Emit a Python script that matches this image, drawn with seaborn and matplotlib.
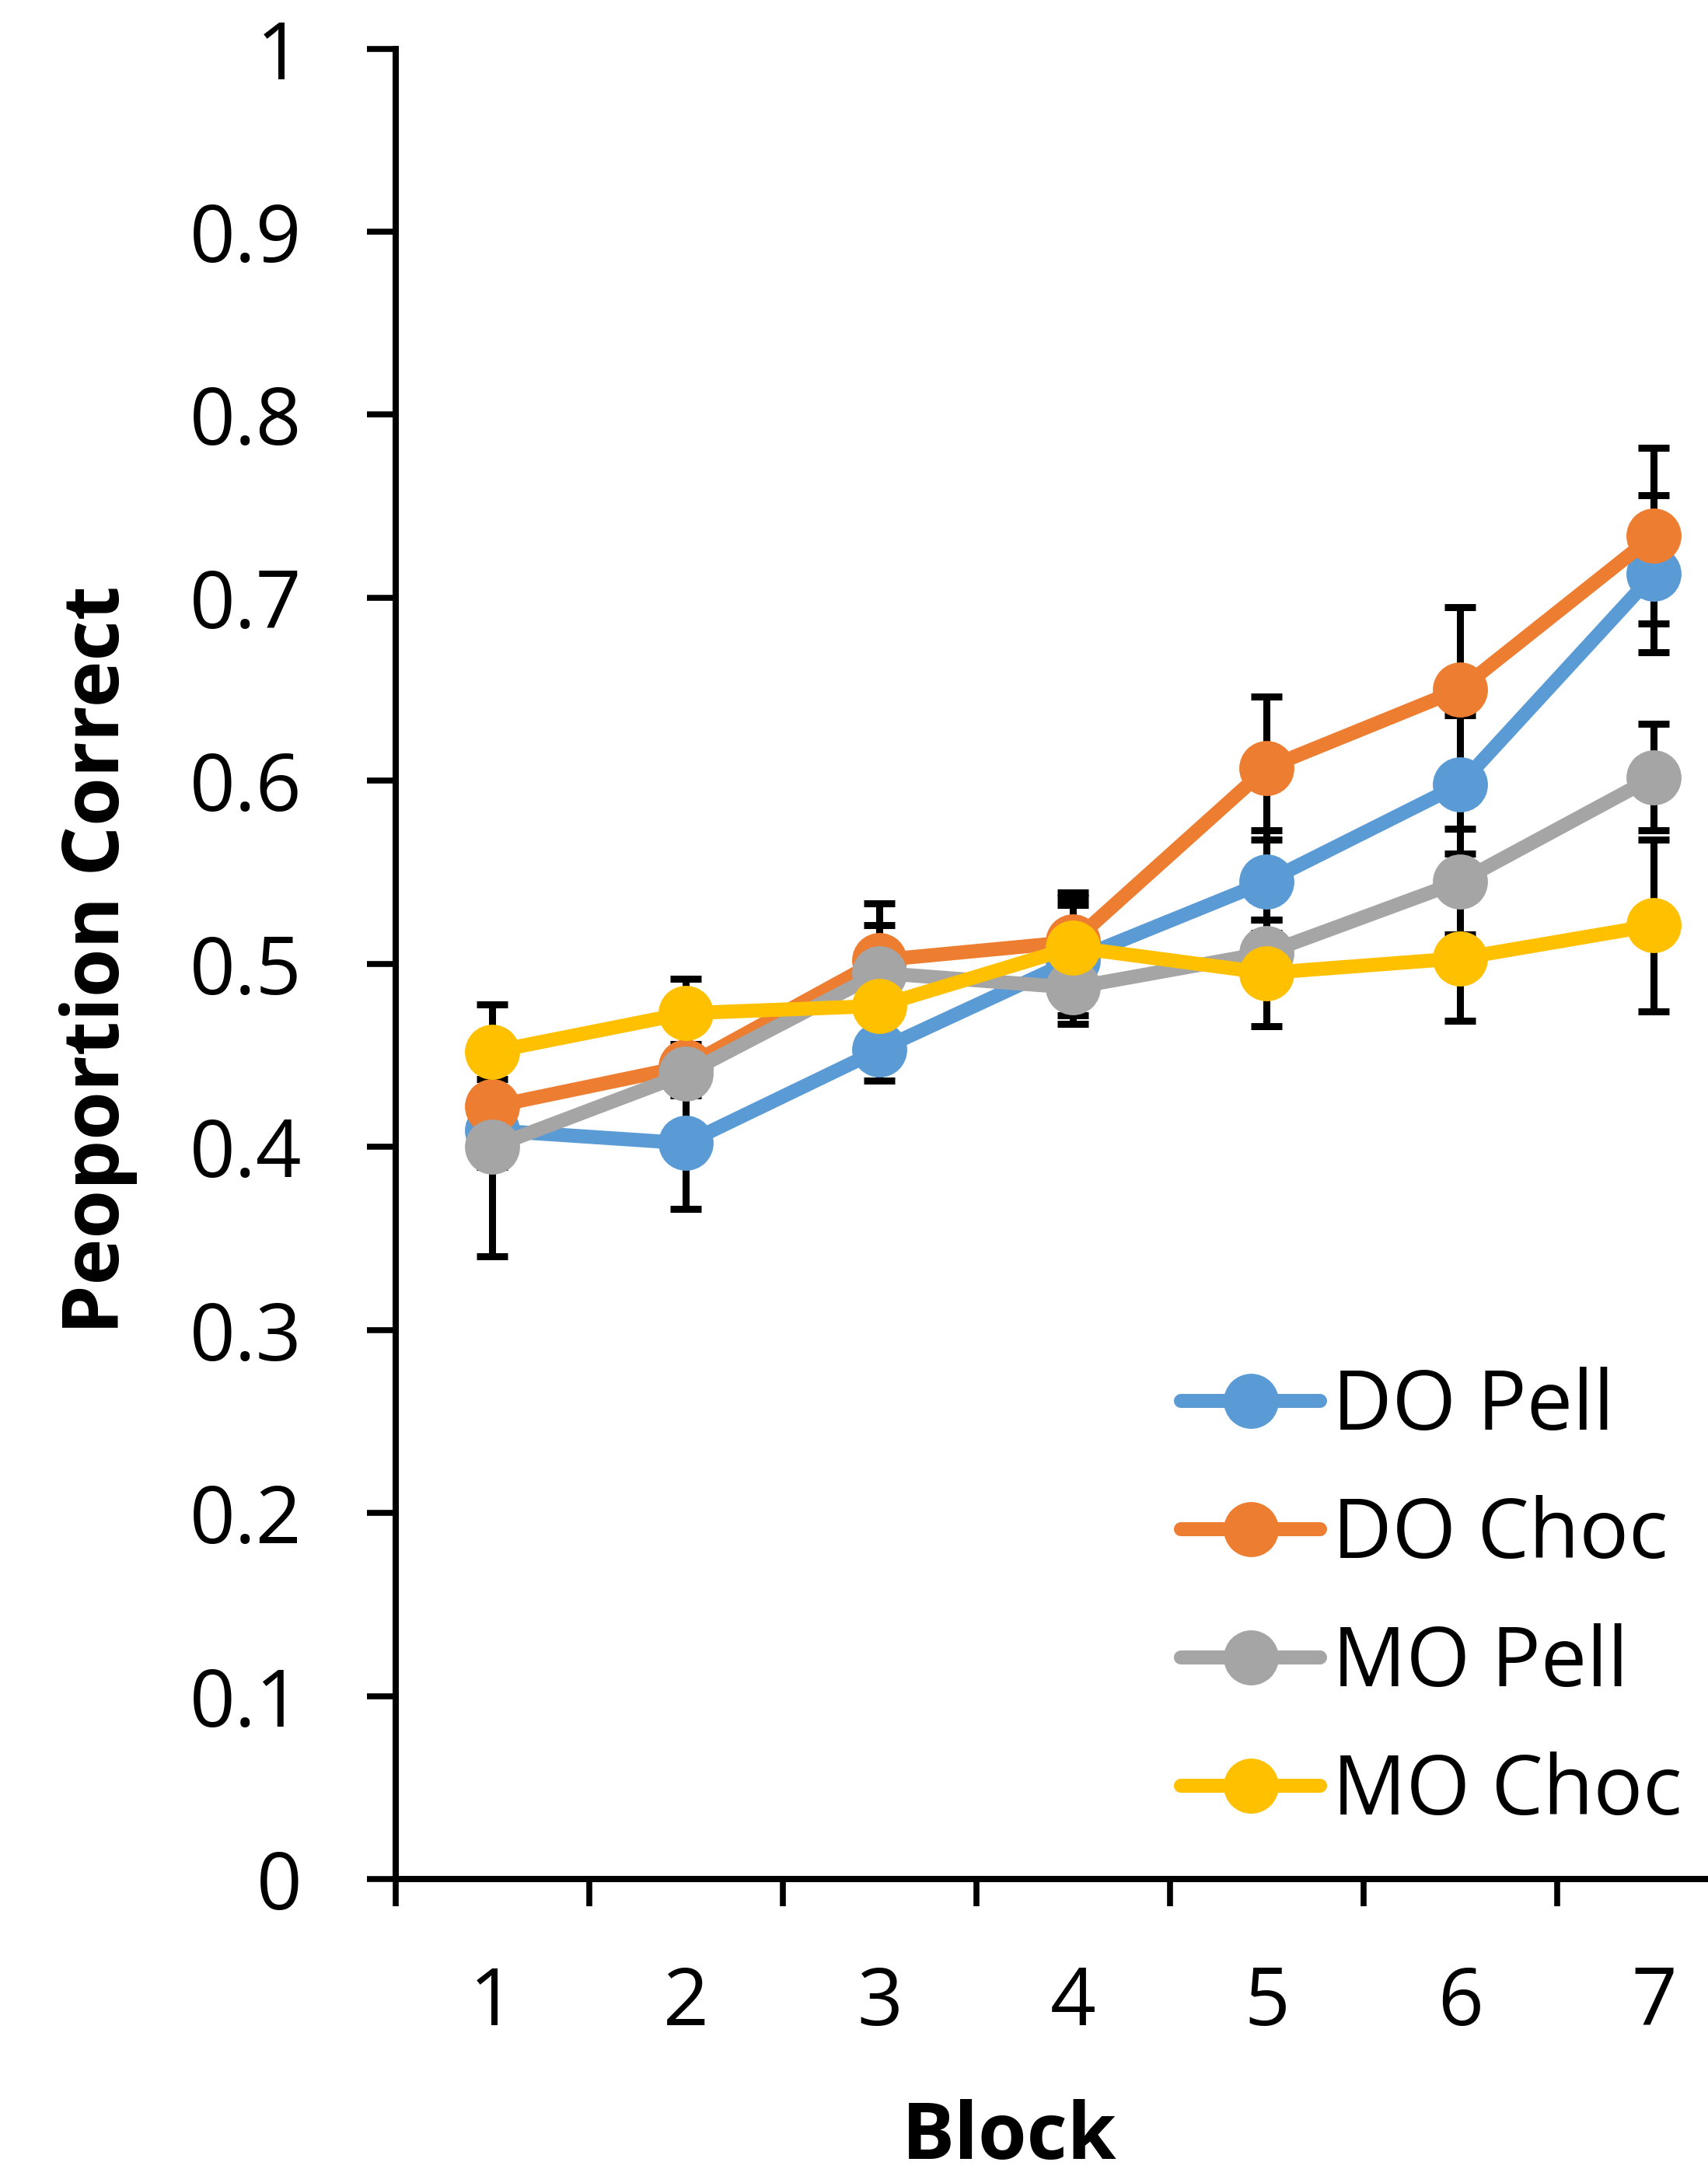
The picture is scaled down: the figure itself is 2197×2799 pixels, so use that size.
import numpy as np
import pandas as pd
import matplotlib
matplotlib.use("Agg")
import matplotlib.pyplot as plt
import seaborn as sns
from matplotlib.lines import Line2D

# ---- data ----
blocks = [1, 2, 3, 4, 5, 6, 7]
groups = ["DO Pell", "DO Choc", "MO Pell", "MO Choc"]
colors = ["#5B9BD5", "#ED7D31", "#A5A5A5", "#FFC000"]

do_pell = [0.409, 0.402, 0.453, 0.502, 0.545, 0.598, 0.713]
do_choc = [0.422, 0.444, 0.502, 0.512, 0.607, 0.650, 0.734]
mo_pell = [0.400, 0.440, 0.495, 0.487, 0.506, 0.545, 0.602]
mo_choc = [0.452, 0.473, 0.477, 0.509, 0.495, 0.503, 0.521]

do_pell_err = [0.020, 0.036, 0.017, 0.030, 0.028, 0.038, 0.043]
do_choc_err = [0.015, 0.012, 0.031, 0.027, 0.039, 0.045, 0.048]
mo_pell_err = [0.060, 0.012, 0.026, 0.020, 0.018, 0.029, 0.029]
mo_choc_err = [0.026, 0.019, 0.025, 0.027, 0.029, 0.034, 0.047]

y_ticks = [0, 0.1, 0.2, 0.3, 0.4, 0.5, 0.6, 0.7, 0.8, 0.9, 1]
y_tick_labels = ["0", "0.1", "0.2", "0.3", "0.4", "0.5", "0.6", "0.7", "0.8", "0.9", "1"]
x_label = "Block"
y_label = "Peoportion Correct"

values = [do_pell, do_choc, mo_pell, mo_choc]
errors = [do_pell_err, do_choc_err, mo_pell_err, mo_choc_err]

rows = []
for g, vals, errs in zip(groups, values, errors):
    for b, v, e in zip(blocks, vals, errs):
        rows.append({"block": b, "group": g, "value": v, "err": e})
df = pd.DataFrame(rows)

# ---- style ----
sns.set_theme(style="white")
plt.rcParams["font.family"] = ["Open Sans", "DejaVu Sans"]
plt.rcParams["text.color"] = "black"
plt.rcParams["axes.labelcolor"] = "black"
plt.rcParams["xtick.color"] = "black"
plt.rcParams["ytick.color"] = "black"
plt.rcParams["xtick.labelcolor"] = "black"
plt.rcParams["ytick.labelcolor"] = "black"

W, H, DPI = 2197, 2799, 100
fig = plt.figure(figsize=(W / DPI, H / DPI), dpi=DPI)
ax_left, ax_right = 509 / W, 1.0
ax_bottom, ax_top = 1 - 2417 / H, 1 - 62.5 / H
ax = fig.add_axes([ax_left, ax_bottom, ax_right - ax_left, ax_top - ax_bottom])

LW = 13
MS = 51

# error bars below the series
for g, c in zip(groups, colors):
    sub = df[df["group"] == g]
    ax.errorbar(sub["block"], sub["value"], yerr=sub["err"], fmt="none",
                ecolor="black", elinewidth=6.5, capsize=14.5, capthick=6.5,
                zorder=1)

sns.lineplot(data=df, x="block", y="value", hue="group", hue_order=groups,
             palette=colors, marker="o", markersize=MS, markeredgewidth=0,
             linewidth=LW, legend=False, ax=ax, zorder=3, errorbar=None,
             solid_joinstyle="round", solid_capstyle="round")

ax.set_xlim(0.5, 7.28)
ax.set_ylim(0, 1)

for s in ["top", "right"]:
    ax.spines[s].set_visible(False)
for s in ["left", "bottom"]:
    ax.spines[s].set_linewidth(5.8)
    ax.spines[s].set_color("black")

ax.set_yticks(y_ticks)
ax.set_yticklabels(y_tick_labels)
ax.tick_params(axis="y", which="major", direction="out", length=27, width=5.5,
               color="black", labelcolor="black", labelsize=74, pad=60, left=True)

# category axis: tick marks at boundaries, labels at centers
ax.set_xticks([0.5, 1.5, 2.5, 3.5, 4.5, 5.5, 6.5])
ax.set_xticklabels([])
ax.set_xticks(blocks, minor=True)
ax.set_xticklabels([str(b) for b in blocks], minor=True)
ax.tick_params(axis="x", which="major", direction="out", length=25, width=5.5,
               color="black", bottom=True)
ax.tick_params(axis="x", which="minor", length=0, labelsize=74, pad=79,
               labelcolor="black")

ax.set_xlabel(x_label, fontsize=73, fontweight="bold", va="top", color="black")
ax.xaxis.set_label_coords((1298 - 509) / 1688, (2417 - 2700) / 2354.5)
ax.set_ylabel(y_label, fontsize=73, fontweight="bold", color="black")
ax.yaxis.set_label_coords((177 - 509) / 1688, (2417 - 1235) / 2354.5)

handles = [Line2D([0], [0], color=c, linewidth=LW, marker="o", markersize=MS,
                  markeredgewidth=0, solid_capstyle="round") for c in colors]
leg = ax.legend(handles, groups, loc="upper left",
                bbox_to_anchor=((1519 - 509) / 1688, (2417 - 1758) / 2354.5),
                frameon=False, fontsize=76, handlelength=1.70, handletextpad=0.15,
                labelspacing=0.56, borderpad=0, borderaxespad=0, numpoints=1)
for t in leg.get_texts():
    t.set_color("black")

fig.savefig("out.png", dpi=DPI, facecolor="white")
